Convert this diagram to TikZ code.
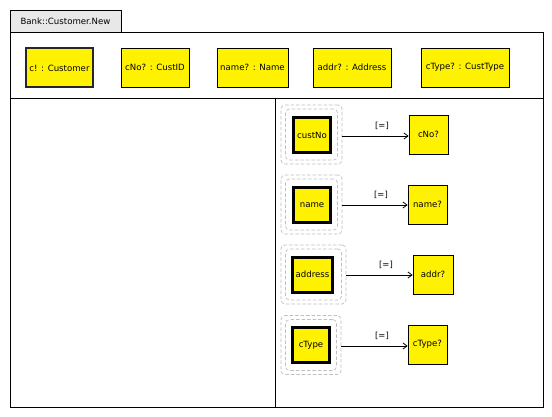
\documentclass[tikz,border=0pt]{standalone}
\usepackage{fontspec}
\setmainfont{DejaVu Sans}
\usetikzlibrary{arrows.meta}
\begin{document}
\begin{tikzpicture}[x=1pt,y=-1pt,
  every node/.style={font=\fontsize{8.6}{10}\selectfont, inner sep=0pt},
  ybox/.style={draw=black, fill=yellow, line width=0.8pt, minimum width=#1, minimum height=39pt},
  ybox/.default=40pt,
  tbox/.style={draw=black, fill=yellow, line width=3pt, minimum width=37pt, minimum height=35pt},
  dbox/.style={draw=black!25, dashed, dash pattern=on 3.5pt off 2pt, rounded corners=4pt, line width=0.7pt, minimum width=#1, minimum height=59pt},
  ibox/.style={draw=black!25, dashed, dash pattern=on 3.5pt off 2pt, rounded corners=4pt, line width=0.7pt, minimum width=#1, minimum height=51pt},
  conn/.style={line width=0.8pt, -{Straight Barb[length=4pt,width=6pt]}},
  lbl/.style={font=\fontsize{8.4}{10}\selectfont}
]
\useasboundingbox (0,0) rectangle (552,417);
% frame
\draw[fill=black!9, line width=0.8pt] (10,32) -- (10,10) -- (121,10) -- (121,32);
\node at (65.5,21) {Bank::Customer.New};
\draw[line width=0.8pt] (10,32) rectangle (543,407);
\draw[line width=0.8pt] (10,98) -- (543,98);
\draw[line width=0.8pt] (275,98) -- (275,407);
% top boxes
\node[ybox=67pt, line width=2pt, draw=black!85] (c) at (59.5,68) {c! : Customer};
\node[ybox=68pt] (cno) at (155,67.5) {cNo? : CustID};
\node[ybox=71pt] (nm) at (252.5,67.5) {name? : Name};
\node[ybox=78pt] (ad) at (352,67.5) {addr? : Address};
\node[ybox=88pt] (ct) at (465,67.5) {cType? : CustType};
% custNo row
\node[dbox=61pt] (o1) at (311.5,134.5) {};
\node[ibox=52pt] (i1) at (311.5,134.5) {};
\node[tbox] (custNo) at (312,135) {custNo};
\node[ybox=39pt] (cNo) at (428.5,134.5) {cNo?};
\draw[conn] (o1.east |- 0,136) coordinate (s1) -- (cNo.west |- s1);
\node[lbl] at (382,126) {[=]};
% name row
\node[dbox=61pt] (o2) at (311.5,204.5) {};
\node[ibox=52pt] (i2) at (311.5,204.5) {};
\node[tbox] (name) at (312,205) {name};
\node[ybox=39pt] (nameq) at (427.5,204.5) {name?};
\draw[conn] (o2.east |- 0,205) coordinate (s2) -- (nameq.west |- s2);
\node[lbl] at (381,195) {[=]};
% address row
\node[dbox=65pt] (o3) at (313.5,274.5) {};
\node[ibox=56pt] (i3) at (313.5,274.5) {};
\node[tbox, minimum width=40pt] (address) at (312.5,274.5) {address};
\node[ybox=40pt] (addrq) at (433,274.5) {addr?};
\draw[conn] (o3.east |- 0,275) coordinate (s3) -- (addrq.west |- s3);
\node[lbl] at (386,265) {[=]};
% cType row
\node[dbox=60pt] (o4) at (311,345) {};
\node[ibox=51pt] (i4) at (311,345) {};
\node[tbox] (cType) at (311,345) {cType};
\node[ybox=39pt] (ctq) at (427.5,344.5) {cType?};
\draw[conn] (o4.east |- 0,346) coordinate (s4) -- (ctq.west |- s4);
\node[lbl] at (382,336) {[=]};
\end{tikzpicture}
\end{document}
